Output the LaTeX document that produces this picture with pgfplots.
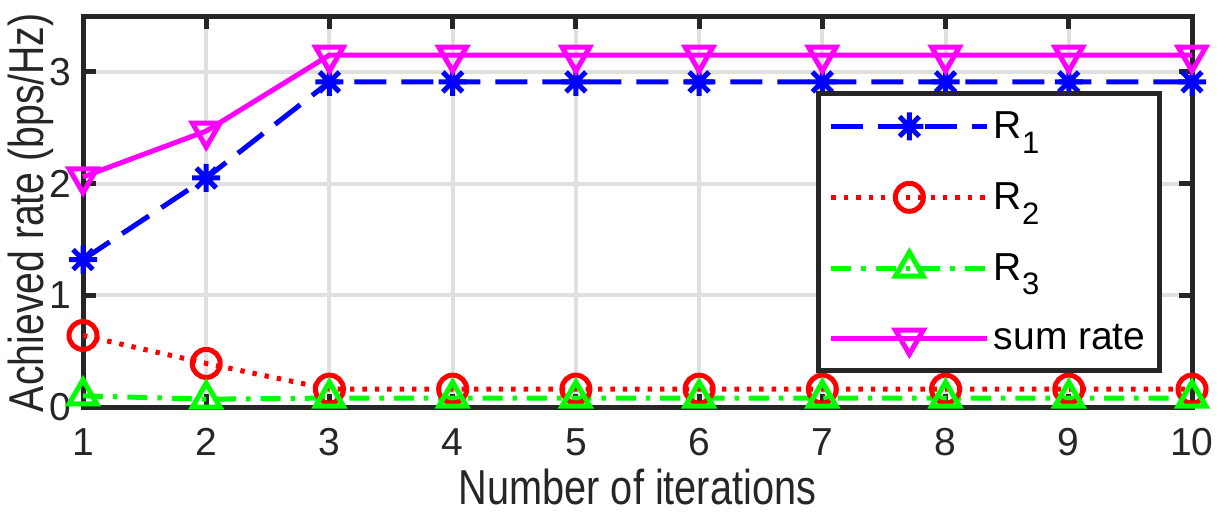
\documentclass[border=0pt]{standalone}
\usepackage{fontspec}
\setmainfont{Liberation Sans}
\usepackage{graphicx}
\usepackage{pgfplots}
\pgfplotsset{compat=1.18}
\definecolor{axgray}{gray}{0.15}
\definecolor{gridgray}{gray}{0.88}
\definecolor{mblue}{rgb}{0,0,1}
\definecolor{mred}{rgb}{1,0,0}
\definecolor{mgreen}{rgb}{0,1,0}
\definecolor{mmag}{rgb}{1,0,1}
\pgfdeclareplotmark{mstar}{%
 \pgfpathmoveto{\pgfqpoint{-\pgfplotmarksize}{0pt}}\pgfpathlineto{\pgfqpoint{\pgfplotmarksize}{0pt}}%
 \pgfpathmoveto{\pgfqpoint{0pt}{-\pgfplotmarksize}}\pgfpathlineto{\pgfqpoint{0pt}{\pgfplotmarksize}}%
 \pgfpathmoveto{\pgfqpoint{-.7071\pgfplotmarksize}{-.7071\pgfplotmarksize}}\pgfpathlineto{\pgfqpoint{.7071\pgfplotmarksize}{.7071\pgfplotmarksize}}%
 \pgfpathmoveto{\pgfqpoint{-.7071\pgfplotmarksize}{.7071\pgfplotmarksize}}\pgfpathlineto{\pgfqpoint{.7071\pgfplotmarksize}{-.7071\pgfplotmarksize}}%
 \pgfusepathqstroke}
\newcommand{\fs}{\fontsize{19.5}{23}\selectfont}
\newcommand{\fl}{\fontsize{24.5}{29}\selectfont}
\newcommand{\sub}[1]{\raisebox{-0.38em}{\fontsize{15.5}{16}\selectfont #1}}
\begin{document}
\begin{tikzpicture}
\useasboundingbox (-41.5pt,-53.5pt) rectangle (571pt,203.5pt);
\begin{axis}[
  scale only axis, width=554.5pt, height=195.5pt,
  xmin=1, xmax=10, ymin=0, ymax=3.5,
  xtick={1,...,10}, ytick={0,1,2,3},
  grid=major, major grid style={gridgray, line width=2pt},
  axis line style={axgray, line width=2.5pt},
  tick style={axgray, line width=2.5pt},
  tick align=inside, major tick length=6.5pt,
  /pgf/number format/assume math mode=true,
  ticklabel style={font=\fs, text=axgray},
  xticklabel style={anchor=base, yshift=-24pt},
  yticklabel style={anchor=east, inner sep=0pt, xshift=-5.5pt},
  xlabel={\scalebox{0.81}[1]{Number of iterations}},
  ylabel={\scalebox{0.8}[1]{Achieved rate (bps/Hz)}},
  every axis x label/.style={at={(axis description cs:0.5,-0.249)}, anchor=base, font=\fl, text=axgray, inner sep=0pt},
  every axis y label/.style={at={(axis description cs:-0.0352,0.497)}, rotate=90, anchor=base, font=\fl, text=axgray, inner sep=0pt},
  clip=false,
  legend cell align=left,
  legend style={at={(0.973,0.808)}, anchor=north east, draw=axgray, line width=2.5pt,
    fill=white, font=\fs, inner xsep=5pt, inner ysep=7pt, row sep=16.5pt,
    /tikz/every even column/.append style={column sep=8pt}},
  legend image code/.code={\draw[mark repeat=2,mark phase=2] plot coordinates {(0pt,0pt) (39pt,0pt) (78pt,0pt)};},
]
\addplot[mblue, line width=2.5pt, dash pattern=on 16pt off 7.5pt, mark=mstar, mark size=7pt, mark options={solid, line width=2.5pt}]
 coordinates {(1,1.32) (2,2.05) (3,2.91) (4,2.91) (5,2.91) (6,2.91) (7,2.91) (8,2.91) (9,2.91) (10,2.91)};
\addlegendentry{R\sub{1}}
\addplot[mred, line width=2.5pt, dash pattern=on 2.2pt off 4pt, mark=o, mark size=7pt, mark options={solid, line width=2.5pt}]
 coordinates {(1,0.64) (2,0.39) (3,0.16) (4,0.16) (5,0.16) (6,0.16) (7,0.16) (8,0.16) (9,0.16) (10,0.16)};
\addlegendentry{R\sub{2}}
\addplot[mgreen, line width=2.5pt, dash pattern=on 10pt off 5pt on 2.2pt off 5pt, mark=triangle, mark size=8pt, mark options={solid, line width=2.5pt}]
 coordinates {(1,0.10) (2,0.07) (3,0.08) (4,0.08) (5,0.08) (6,0.08) (7,0.08) (8,0.08) (9,0.08) (10,0.08)};
\addlegendentry{R\sub{3}}
\addplot[mmag, line width=2.5pt, mark=triangle, mark size=8pt, mark options={solid, line width=2.5pt, rotate=180}]
 coordinates {(1,2.06) (2,2.47) (3,3.15) (4,3.15) (5,3.15) (6,3.15) (7,3.15) (8,3.15) (9,3.15) (10,3.15)};
\addlegendentry{sum rate}
\end{axis}
\end{tikzpicture}
\end{document}
